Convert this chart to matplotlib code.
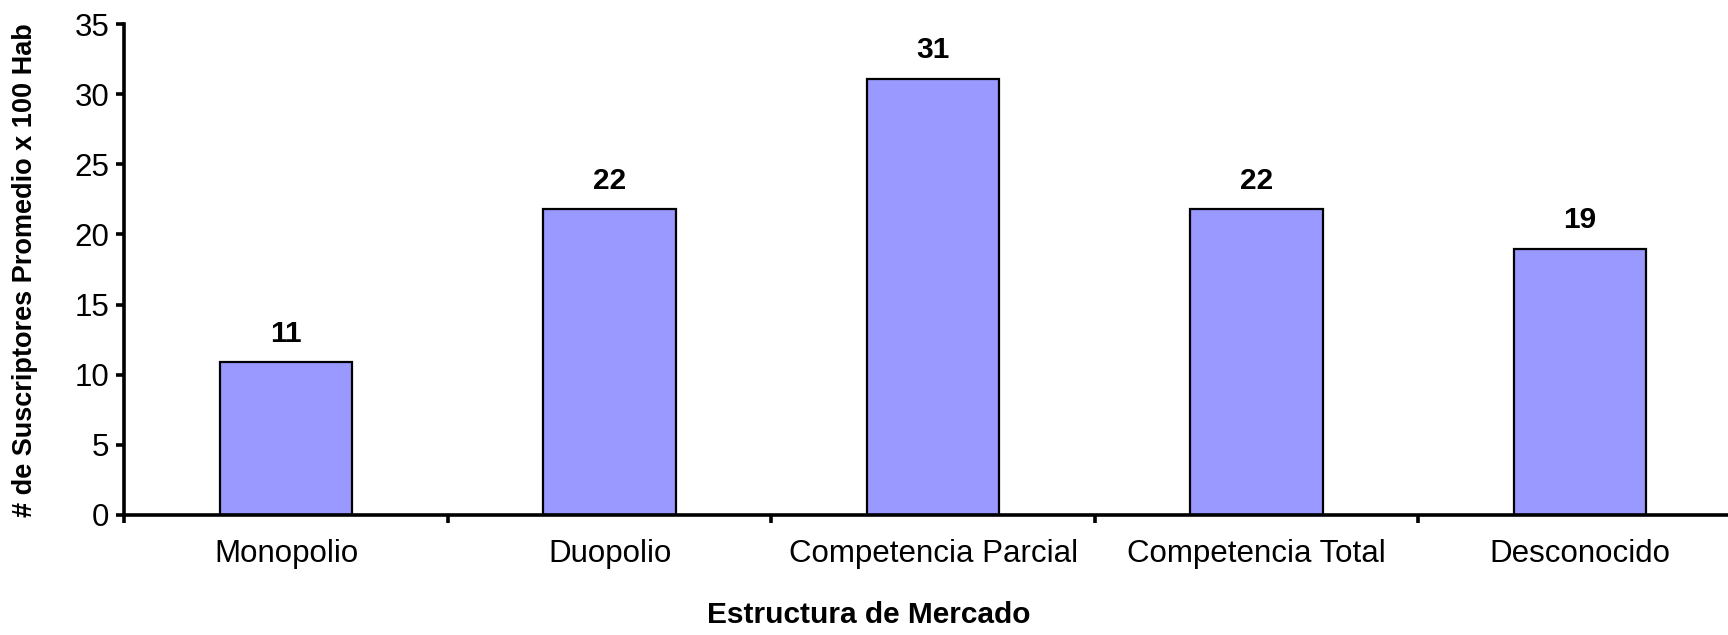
import matplotlib
matplotlib.use('Agg')
import matplotlib.pyplot as plt
import numpy as np

# Data
categories = ['Monopolio', 'Duopolio', 'Competencia Parcial', 'Competencia Total', 'Desconocido']
values = [10.9, 21.8, 31.1, 21.8, 19.0]

plt.rcParams['font.family'] = ['Liberation Sans', 'DejaVu Sans']

fig = plt.figure(figsize=(17.28, 6.35), dpi=100)
ax = fig.add_axes([0.072, 0.189, 0.936, 0.773])

x = np.arange(len(categories))
bars = ax.bar(x, values, width=0.41, color='#9999FF', edgecolor='black', linewidth=1.6)

# value labels above bars
for bar, v in zip(bars, values):
    ax.annotate(f'{v:.0f}', (bar.get_x() + bar.get_width() / 2, bar.get_height()),
                xytext=(0, 20.5), textcoords='offset points',
                ha='center', va='center', fontsize=21.5, fontweight='bold')

ax.set_xlim(-0.5, len(categories) - 0.5)
ax.set_ylim(0, 35)
ax.set_yticks(range(0, 36, 5))

# ticks between categories, labels at centers
ax.set_xticks(np.arange(-0.5, len(categories), 1.0))
ax.set_xticklabels([])
ax.set_xticks(x, minor=True)
ax.set_xticklabels(categories, minor=True, fontsize=22.5)
ax.tick_params(axis='x', which='minor', length=0, pad=17)
ax.tick_params(axis='x', which='major', length=6, width=2.6, direction='out')
ax.tick_params(axis='y', length=6, width=2.6, direction='out', labelsize=22.5, pad=5)

ax.spines['top'].set_visible(False)
ax.spines['right'].set_visible(False)
ax.spines['left'].set_linewidth(2.6)
ax.spines['bottom'].set_linewidth(2.6)

fig.text(0.0145, 0.575, '# de Suscriptores Promedio x 100 Hab', rotation=90,
         ha='center', va='center', fontsize=19.5, fontweight='bold')
fig.text(0.503, 0.031, 'Estructura de Mercado', ha='center', va='center',
         fontsize=21.5, fontweight='bold')

fig.savefig('out.png', dpi=100)
